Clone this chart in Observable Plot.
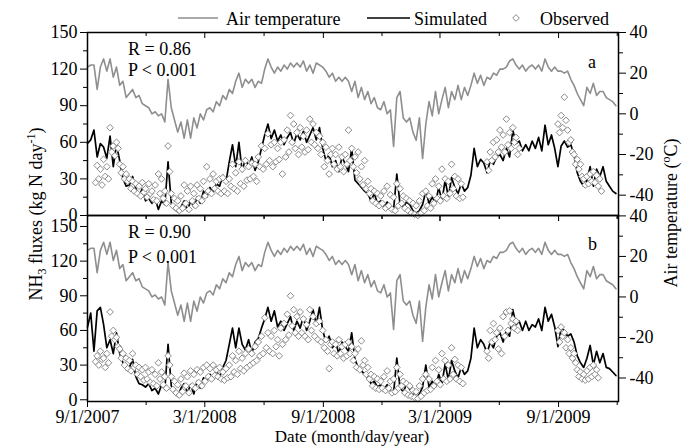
<!DOCTYPE html>
<html><head><meta charset="utf-8">
<script src="https://cdn.jsdelivr.net/npm/d3@7"></script>
<script src="https://cdn.jsdelivr.net/npm/@observablehq/plot@0.6"></script>
<style>
body{margin:0;background:#fff;}
#wrap{position:relative;width:691px;height:446px;font-family:"Liberation Serif","Times New Roman",Times,"DejaVu Serif",serif;}
#wrap svg{position:absolute;left:0;top:0;}
#wrap svg, #wrap svg text{font-family:"Liberation Serif","Times New Roman",Times,"DejaVu Serif",serif !important;}
</style></head><body><div id="wrap"></div>
<script>
// ---- data (one value every 5 days from 9/1/2007) ----
const startDate = Date.UTC(2007, 8, 1);
const stepDays = 5;
const airTemp = [
 23, 24, 24, 12, 23, 27, 21, 27, 18, 23,
 14, 16, 8, 10, 12, 8, 9, 5, 4, 3,
 0, 1, -1, 0, -4, 17, 3, -3, -9, -4,
 -12, -3, -12, -2, -7, 0, -3, 2, 3, 1,
 6, 4, 9, 7, 12, 10, 16, 20, 13, 17,
 15, 17, 13, 16, 15, 22, 27, 23, 20, 23,
 21, 24, 22, 25, 23, 25, 23, 26, 21, 24,
 20, 25, 24, 23, 21, 18, 20, 16, 18, 16,
 18, 16, 11, 16, 8, 13, 7, 11, 5, 8,
 3, 2, 6, 0, 2, -16, 8, 11, -2, -4,
 -2, -9, -13, -2, -22, -5, 6, -1, 11, 0,
 7, 13, 3, 11, 7, 14, 7, 13, 9, 14,
 20, 15, 19, 14, 18, 17, 20, 19, 22, 22,
 23, 26, 27, 24, 22, 24, 21, 23, 24, 22,
 24, 21, 27, 23, 21, 23, 21, 21, 20, 21,
 17, 14, 10, 7, 4, 13, 10, 15, 9, 11,
 11, 8, 7, 6, 4
];
const simA = [
 59, 62, 70, 48, 59, 56, 47, 65, 40, 58,
 45, 30, 24, 25, 32, 22, 16, 22, 12, 14,
 10, 14, 5, 12, 9, 44, 10, 5, 3, 7,
 12, 4, 12, 7, 15, 10, 20, 15, 23, 19,
 26, 24, 33, 28, 44, 58, 40, 60, 36, 47,
 40, 48, 37, 44, 55, 66, 75, 63, 70, 61,
 66, 58, 64, 68, 59, 67, 62, 69, 60, 66,
 72, 62, 72, 55, 45, 50, 40, 45, 36, 48,
 42, 36, 55, 29, 26, 23, 20, 18, 12, 18,
 10, 12, 7, 11, 7, 5, 34, 9, 7, 11,
 9, 4, 2, 4, 9, 20, 10, 15, 10, 23,
 12, 29, 15, 31, 23, 18, 26, 20, 23, 33,
 55, 40, 46, 43, 35, 45, 42, 48, 50, 45,
 55, 48, 70, 59, 61, 53, 58, 53, 61, 55,
 64, 53, 74, 58, 66, 55, 40, 57, 61, 56,
 58, 50, 35, 28, 24, 29, 40, 24, 38, 32,
 40, 28, 24, 20, 18
];
const simB = [
 63, 75, 42, 77, 80, 65, 45, 52, 40, 58,
 40, 32, 26, 28, 35, 20, 14, 13, 11, 14,
 8, 10, 5, 13, 9, 48, 12, 7, 3, 10,
 14, 6, 13, 5, 16, 10, 19, 16, 22, 18,
 25, 20, 28, 34, 48, 62, 45, 62, 48, 43,
 52, 40, 50, 53, 62, 70, 80, 68, 77, 63,
 68, 60, 66, 72, 60, 68, 62, 72, 60, 68,
 78, 65, 80, 60, 50, 55, 45, 50, 40, 50,
 46, 42, 58, 35, 28, 25, 22, 19, 14, 16,
 11, 13, 9, 13, 8, 6, 36, 10, 7, 13,
 9, 5, 2, 5, 11, 30, 11, 16, 11, 22,
 14, 31, 17, 34, 25, 19, 28, 22, 25, 36,
 62, 45, 52, 48, 40, 50, 45, 55, 58, 50,
 60, 55, 78, 65, 68, 60, 68, 60, 65, 63,
 70, 60, 80, 68, 74, 63, 46, 62, 60, 55,
 57, 50, 38, 32, 28, 36, 47, 30, 42, 32,
 40, 28, 27, 24, 21
];
// observed: two readings per 5-day step (day 0 and day 2.5 of the step)
const obsA = [
 [null,null],[null,null],[null,27],[41,30],[38,25],[46,32],[40,30],[72,52],[57,49],[60,55],
 [42,35],[40,30],[34,28],[30,22],[28,20],[26,18],[24,16],[27,19],[22,15],[26,18],
 [20,13],[25,12],[34,18],[30,14],[20,10],[57,36],[18,8],[14,6],[12,4],[16,6],
 [25,10],[20,5],[24,12],[18,8],[25,14],[22,12],[28,16],[40,20],[30,18],[34,22],
 [28,20],[30,18],[31,20],[28,18],[30,24],[42,22],[35,20],[44,26],[38,24],[45,29],
 [40,30],[43,32],[42,28],[48,40],[57,38],[55,42],[67,45],[58,40],[60,44],[55,46],
 [60,34],[62,48],[70,52],[82,60],[75,55],[68,50],[72,56],[65,52],[70,54],[79,60],
 [75,58],[68,55],[65,50],[60,40],[56,45],[34,50],[55,42],[50,38],[56,40],[48,36],
 [50,42],[70,45],[55,40],[48,35],[52,30],[40,25],[45,22],[28,18],[22,12],[20,10],
 [18,8],[16,10],[20,6],[24,8],[17,5],[15,4],[26,8],[22,10],[16,6],[14,4],
 [12,2],[10,1],[8,0],[12,2],[18,4],[20,8],[16,6],[26,10],[30,14],[24,12],
 [38,16],[30,14],[28,18],[42,22],[32,16],[30,14],[26,15],[null,null],[null,null],[null,null],
 [null,null],[null,null],[null,null],[null,null],[44,37],[52,45],[60,48],[62,52],[70,56],[66,52],
 [79,58],[68,55],[72,60],[64,50],[55,null],[null,null],[null,null],[null,null],[null,null],[null,null],
 [null,null],[null,null],[null,null],[null,null],[null,null],[null,null],[75,68],[82,72],[97,78],[70,60],
 [62,52],[50,42],[46,38],[42,32],[30,25],[32,26],[34,28],[36,27],[33,24],[30,20]
];
const obsB = [
 [null,null],[null,null],[null,33],[38,30],[42,35],[36,28],[40,32],[76,55],[60,52],[54,46],
 [44,36],[40,30],[36,27],[34,25],[40,28],[30,22],[28,20],[26,17],[28,18],[24,15],
 [26,14],[22,12],[32,18],[24,13],[20,10],[38,30],[20,9],[16,6],[13,4],[18,7],
 [23,12],[20,6],[25,12],[22,10],[26,15],[24,12],[28,16],[30,20],[27,18],[30,21],
 [26,20],[28,18],[24,17],[27,19],[30,20],[38,24],[34,22],[42,27],[36,25],[40,28],
 [44,30],[40,32],[46,34],[50,38],[55,40],[71,45],[58,42],[55,40],[60,46],[52,38],
 [62,48],[66,52],[74,56],[90,64],[78,58],[72,55],[76,58],[70,55],[65,52],[78,60],
 [72,55],[66,52],[68,50],[60,45],[52,42],[27,48],[50,40],[48,38],[52,40],[46,36],
 [48,38],[50,40],[46,34],[40,28],[44,26],[51,30],[34,22],[28,18],[22,12],[20,10],
 [18,9],[16,10],[20,8],[25,10],[16,6],[18,7],[28,10],[22,12],[16,6],[14,4],
 [12,3],[8,2],[7,1],[12,3],[18,6],[22,8],[18,9],[28,12],[34,16],[26,13],
 [40,18],[34,16],[30,18],[45,22],[35,18],[30,16],[28,14],[null,null],[null,null],[null,null],
 [null,null],[null,null],[null,null],[null,null],[42,36],[60,50],[66,52],[58,44],[62,40],[72,55],
 [76,60],[77,66],[70,62],[68,60],[null,null],[null,null],[null,null],[null,null],[null,null],[null,null],
 [null,null],[null,null],[null,null],[null,null],[null,null],[null,null],[60,50],[63,55],[58,45],[52,40],
 [45,36],[40,32],[26,20],[24,18],[22,17],[25,18],[28,20],[30,22],[26,19]
];
const leftTicks = [0, 30, 60, 90, 120, 150];
const leftMinor = [15, 45, 75, 105, 135];
const tempTicks = [-40, -20, 0, 20, 40];
const tempMinor = [-30, -10, 10, 30];
const xMajorDates = ["2007-09-01", "2008-03-01", "2008-09-01", "2009-03-01", "2009-09-01"];
const xTickLabels = ["9/1/2007", "3/1/2008", "9/1/2008", "3/1/2009", "9/1/2009"];
const xMinorDates = ["2007-12-01", "2008-06-01", "2008-12-01", "2009-06-01", "2009-12-01"];
const stats = [["R = 0.86", "P < 0.001", "a"], ["R = 0.90", "P < 0.001", "b"]];

// ---- helpers ----
const FONT = "'Liberation Serif', 'Times New Roman', Times, 'DejaVu Serif', serif";
const DAY = 864e5;
const dateAt = d => new Date(startDate + d * DAY);
const iso = s => new Date(s + "T00:00:00Z");
const xMajor = xMajorDates.map(iso), xMinor = xMinorDates.map(iso);
const labelMap = new Map(xMajor.map((d, i) => [+d, xTickLabels[i]]));
const series = arr => arr.map((v, i) => ({date: dateAt(i * stepDays), v}));
const obsRows = arr => arr.flatMap((p, i) => p.map((v, k) => ({date: dateAt(i * stepDays + k * stepDays / 2), v}))).filter(d => d.v != null);
const fmtT = v => { const r = Math.round(v); return r === 0 ? "0" : String(r); };

const GRAY = "#8e8e8e";
const panels = [
  {sim: simA, obs: obsA, yDomain: [0, 150], tDomain: [-50, 40], mt: 32, mb: 231, xLabels: false},
  {sim: simB, obs: obsB, yDomain: [-1.5, 159.5], tDomain: [-51.6, 40.2], mt: 215, mb: 45, xLabels: true}
];
const wrap = document.getElementById("wrap");
panels.forEach(p => {
  const [y0, y1] = p.yDomain, [t0, t1] = p.tDomain;
  const toL = t => y0 + (t - t0) * (y1 - y0) / (t1 - t0);
  const fromL = L => t0 + (L - y0) * (t1 - t0) / (y1 - y0);
  const pxPerUnit = (446 - p.mt - p.mb) / (y1 - y0);
  const chart = Plot.plot({
    width: 691, height: 446,
    marginLeft: 87, marginRight: 73, marginTop: p.mt, marginBottom: p.mb,
    x: {type: "utc", domain: [iso("2007-09-01"), iso("2009-12-03")], axis: null},
    y: {domain: p.yDomain, axis: null},
    style: {background: "transparent", overflow: "visible", fontFamily: FONT, fontSize: "18px", color: "#000"},
    marks: [
      Plot.line(series(airTemp), {x: "date", y: d => toL(d.v), stroke: GRAY, strokeWidth: 1.6}),
      Plot.line(series(p.sim), {x: "date", y: "v", stroke: "#000", strokeWidth: 1.7}),
      Plot.dot(obsRows(p.obs), {x: "date", y: "v", symbol: "diamond2", r: 3, stroke: "#8a8a8a", fill: "white", strokeWidth: 1}),
      Plot.frame({stroke: "#000", strokeWidth: 1.5}),
      Plot.axisY(leftTicks, {anchor: "left", tickSize: 7, tickPadding: 3, tickFormat: d => String(d), label: null}),
      Plot.axisY(leftMinor, {anchor: "left", tickSize: 4, tickFormat: () => "", label: null}),
      Plot.axisY(tempTicks.map(toL), {anchor: "right", tickSize: 7, tickPadding: 4, tickFormat: d => fmtT(fromL(d)), label: null}),
      Plot.axisY(tempMinor.map(toL), {anchor: "right", tickSize: 4, tickFormat: () => "", label: null}),
      Plot.axisX(xMajor, {anchor: "bottom", tickSize: 6, tickPadding: 3, tickFormat: p.xLabels ? (d => labelMap.get(+d)) : () => "", label: null}),
      Plot.axisX(xMinor, {anchor: "bottom", tickSize: 4, tickFormat: () => "", label: null}),
      Plot.ruleX(xMajor, {y1: y1, y2: y1 - 6 / pxPerUnit, stroke: "#000"}),
      Plot.ruleX(xMinor, {y1: y1, y2: y1 - 4 / pxPerUnit, stroke: "#000"})
    ]
  });
  wrap.appendChild(chart);
});

// ---- overlay text: legend, axis titles, statistics ----
const ns = "http://www.w3.org/2000/svg";
const ov = document.createElementNS(ns, "svg");
ov.setAttribute("width", 691); ov.setAttribute("height", 446);
ov.setAttribute("font-family", FONT);
ov.setAttribute("font-size", "18");
ov.style.fontFamily = FONT;
const dia = d3.symbol(d3.symbolDiamond2, Math.PI * 9)();
ov.innerHTML = `
 <line x1="178" x2="218" y1="18" y2="18" stroke="${GRAY}" stroke-width="1.6"/>
 <text x="226" y="25">Air temperature</text>
 <line x1="367" x2="410" y1="18" y2="18" stroke="#000" stroke-width="1.7"/>
 <text x="414" y="25">Simulated</text>
 <path d="${dia}" transform="translate(516,18)" fill="white" stroke="#8a8a8a"/>
 <text x="540" y="25">Observed</text>
 <text x="128" y="55">${stats[0][0]}</text>
 <text x="128" y="76">${stats[0][1].replace("<", "&lt;")}</text>
 <text x="588" y="68">${stats[0][2]}</text>
 <text x="128" y="238">${stats[1][0]}</text>
 <text x="128" y="263">${stats[1][1].replace("<", "&lt;")}</text>
 <text x="588" y="250">${stats[1][2]}</text>
 <text x="352" y="442" text-anchor="middle" font-size="17">Date (month/day/year)</text>
 <text transform="translate(42,214) rotate(-90)" text-anchor="middle">NH<tspan font-size="12" dy="4">3</tspan><tspan dy="-4"> fluxes (kg N day</tspan><tspan font-size="12" dy="-7">-1</tspan><tspan dy="7">)</tspan></text>
 <text transform="translate(677,213) rotate(-90)" text-anchor="middle">Air temperature (<tspan font-size="12" dy="-7">o</tspan><tspan dy="7">C)</tspan></text>
`;
wrap.appendChild(ov);
</script></body></html>
